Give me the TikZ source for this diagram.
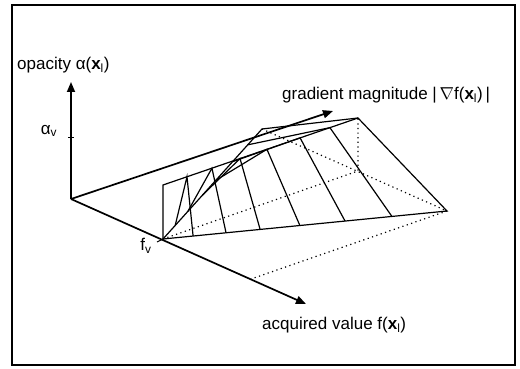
\documentclass[tikz,border=0pt]{standalone}
\usepackage{fontspec}
\setmainfont{Liberation Sans}
\usetikzlibrary{arrows.meta,calc}
\begin{document}
\begin{tikzpicture}[x=1pt,y=-1pt,
  axis/.style={line width=1.7pt,-{Triangle[length=10pt,width=8pt]}},
  face/.style={line width=1.2pt},
  hidden/.style={line width=1.2pt,dash pattern=on 1.2pt off 3.4pt},
  lbl/.style={font=\fontsize{17}{19}\selectfont,inner sep=0pt}]
  \useasboundingbox (0,0) rectangle (520,369);
  \draw[line width=2.4pt] (12,5) rectangle (515,365);
  \coordinate (O) at (71,199);
  \coordinate (Atip) at (71,82);
  \coordinate (Gtip) at (333,111);
  \coordinate (Ftip) at (306,304);
  \coordinate (fv) at (163,239);
  \coordinate (S) at (163,185);
  \coordinate (T) at (358,118);
  \coordinate (M) at (358,171);
  \coordinate (R) at (447,211);
  \coordinate (L) at (262,129);
  \coordinate (P) at (251,279);
  \draw[axis] (O) -- (Atip);
  \draw[axis] (O) -- (Gtip);
  \draw[axis] (O) -- (Ftip);
  \draw[line width=1pt] (68,137) -- (74,137);
  \draw[line width=1pt] ($(fv)+(-6,3)$) -- (fv);
  \node[lbl,anchor=west] (opac) at (17,65) {opacity α(\textbf{x}\textsubscript{l})};
  \node[lbl] (av) at (49,131) {α\textsubscript{v}};
  \node[lbl,anchor=west] (grad) at (282,95) {gradient magnitude\ |\,$\nabla$f(\textbf{x}\textsubscript{l})\,|};
  \node[lbl] (fvl) at (146,246) {f\textsubscript{v}};
  \node[lbl,anchor=west] (acq) at (262,325) {acquired value f(\textbf{x}\textsubscript{l})};
  \draw[hidden] (fv) -- (M) -- (T);
  \draw[hidden] (L) -- (R) -- (P);
  \draw[face] (fv) -- (S) -- (T) -- (R) -- cycle;
  \draw[face] (fv) -- (L) -- (T);
  \foreach \t/\u in {0.123/0.106,0.251/0.222,0.395/0.342,0.533/0.482,0.703/0.641,0.856/0.806}
  {
    \draw[face] ($(fv)!\t!(L)$) -- ($(S)!\t!(T)$) -- ($(fv)!\u!(R)$);
  }
\end{tikzpicture}
\end{document}
